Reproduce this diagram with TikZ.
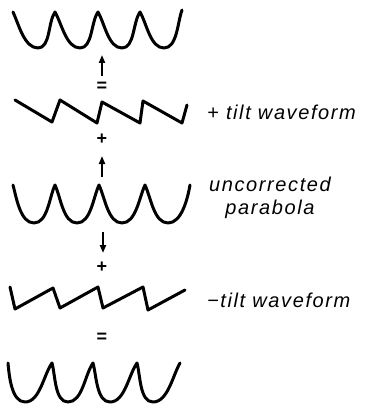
\documentclass[tikz,border=0pt]{standalone}
\usepackage{fontspec}
\setmainfont{Liberation Sans}
\newfontfamily\wavelabel[LetterSpace=8]{Liberation Sans}
\usepackage{tikz}
\usetikzlibrary{positioning, arrows.meta, calc}

\begin{document}
\begin{tikzpicture}[x=1pt, y=-1pt,
    wave/.style={line width=3pt, line cap=round, line join=round, looseness=0.8},
    sumarrow/.style={line width=2.2pt, -{Triangle[length=8pt, width=6pt]}},
    sign/.style={font=\bfseries\fontsize{18}{18}\selectfont, inner sep=0pt},
    caption/.style={font=\wavelabel\itshape\fontsize{20}{23}\selectfont, inner sep=0pt, align=center}]
        \useasboundingbox (0,0) rectangle (371,409);

        % Draw corrected parabola (top)
        \draw[wave] (13,12) to[out=-65, in=180] (38,48) to[out=0, in=-125] (55,12)
                            to[out=-60, in=180] (80,48) to[out=0, in=-125] (98,12)
                            to[out=-60, in=180] (122,48) to[out=0, in=-125] (140,12)
                            to[out=-60, in=180] (164,48) to[out=0, in=-110] (182,10);

        % Draw + tilt sawtooth
        \draw[wave] (15,100) -- (52,122) -- (60,100) -- (97,123) -- (102,102)
                    -- (140,123) -- (143,101) -- (182,123) -- (187,105);

        % Draw uncorrected parabola
        \draw[wave] (13,185) to[out=-75, in=180] (34,223) to[out=0, in=-115] (55,185)
                             to[out=-65, in=180] (77,223) to[out=0, in=-115] (99,185)
                             to[out=-65, in=180] (122,223) to[out=0, in=-115] (145,185)
                             to[out=-65, in=180] (168,223) to[out=0, in=-100] (190,185);

        % Draw - tilt sawtooth
        \draw[wave] (10,287) -- (15,309) -- (53,288) -- (60,308) -- (98,287)
                    -- (103,308) -- (143,287) -- (148,310) -- (185,290);

        % Draw corrected parabola (bottom)
        \draw[wave] (8,363) to[out=-85, in=180] (25,402) to[out=0, in=-125] (52,363)
                            to[out=-75, in=180] (68,402) to[out=0, in=-125] (93,363)
                            to[out=-75, in=180] (110,402) to[out=0, in=-125] (137,363)
                            to[out=-75, in=180] (153,402) to[out=0, in=-120] (180,363);

        % Draw signs
        \node[sign] (eqtop) at (102,87) {=};
        \node[sign] (plustop) at (102,139) {+};
        \node[sign] (plusbot) at (102,267) {+};
        \node[sign] (eqbot) at (102,338) {=};

        % Draw arrows
        \coordinate (up1s) at (102,76);
        \coordinate (up1e) at (102,55);
        \coordinate (up2s) at (102,177);
        \coordinate (up2e) at (102,156);
        \coordinate (dn1s) at (103,232);
        \coordinate (dn1e) at (103,253);
        \draw[sumarrow] (up1s) -- (up1e);
        \draw[sumarrow] (up2s) -- (up2e);
        \draw[sumarrow] (dn1s) -- (dn1e);

        % Draw labels
        \node[caption, anchor=west] (plustilt) at (207,112) {+ tilt waveform};
        \node[caption] (uncorr) at (270,198) {uncorrected\\parabola};
        \node[caption, anchor=west] (minustilt) at (207,300) {−tilt waveform};
    \end{tikzpicture}
\end{document}
